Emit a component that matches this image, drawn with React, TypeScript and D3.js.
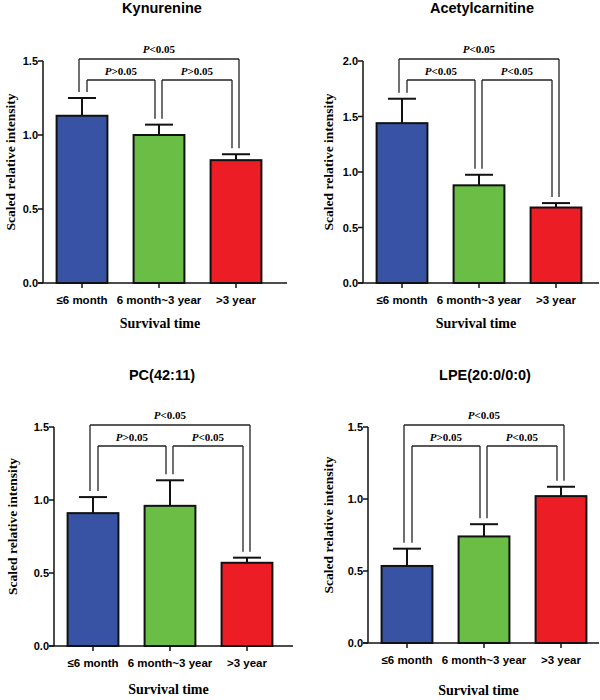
import React from "react";
import * as d3 from "d3";

const categories = ["≤6 month", "6 month~3 year", ">3 year"];
const titles = ["Kynurenine", "Acetylcarnitine", "PC(42:11)", "LPE(20:0/0:0)"];
const kynurenineMean = [1.13, 1.0, 0.83];
const kynurenineSem = [0.12, 0.07, 0.04];
const acetylcarnitineMean = [1.44, 0.88, 0.68];
const acetylcarnitineSem = [0.22, 0.095, 0.04];
const pcMean = [0.91, 0.96, 0.57];
const pcSem = [0.11, 0.175, 0.035];
const lpeMean = [0.535, 0.74, 1.02];
const lpeSem = [0.12, 0.085, 0.065];
// comparisons: [1 vs 3, 1 vs 2, 2 vs 3]
const kynurenineP = ["<0.05", ">0.05", ">0.05"];
const acetylcarnitineP = ["<0.05", "<0.05", "<0.05"];
const pcP = ["<0.05", ">0.05", "<0.05"];
const lpeP = ["<0.05", ">0.05", "<0.05"];
const yMaxes = [1.5, 2.0, 1.5, 1.5];
const yTicksSmall = [0, 0.5, 1.0, 1.5];
const yTicksLarge = [0, 0.5, 1.0, 1.5, 2.0];
const xTitle = "Survival time";
const yTitle = "Scaled relative intensity";

const colors = ["#3953a4", "#6abd45", "#ec1d25"];

const panelData = [
  { title: titles[0], mean: kynurenineMean, sem: kynurenineSem, p: kynurenineP, yMax: yMaxes[0], ticks: yTicksSmall },
  { title: titles[1], mean: acetylcarnitineMean, sem: acetylcarnitineSem, p: acetylcarnitineP, yMax: yMaxes[1], ticks: yTicksLarge },
  { title: titles[2], mean: pcMean, sem: pcSem, p: pcP, yMax: yMaxes[2], ticks: yTicksSmall },
  { title: titles[3], mean: lpeMean, sem: lpeSem, p: lpeP, yMax: yMaxes[3], ticks: yTicksSmall },
];

const layouts = [
  { left: 43, top: 61, bottom: 283, right: 287, titleX: 162, titleY: 8, yLabX: 10, xLabY: 323 },
  { left: 363, top: 61, bottom: 283, right: 599, titleX: 482, titleY: 8, yLabX: 328, xLabY: 323 },
  { left: 54, top: 427, bottom: 646, right: 293, titleX: 162, titleY: 375, yLabX: 12, xLabY: 689 },
  { left: 368, top: 427, bottom: 643, right: 599, titleX: 485, titleY: 375, yLabX: 328, xLabY: 690 },
];

const SANS = "'Liberation Sans', Arial, sans-serif";
const SERIF = "'Liberation Serif', 'Times New Roman', serif";

function PLabel({ x, y, text }: { x: number; y: number; text: string }) {
  return (
    <text x={x} y={y} textAnchor="middle" dominantBaseline="central" fontFamily={SERIF} fontWeight="bold" fontSize={11}>
      <tspan fontStyle="italic">P</tspan>
      <tspan>{text}</tspan>
    </text>
  );
}

function Panel({ d, l }: { d: any; l: any }) {
  const x = d3
    .scaleBand<string>()
    .domain(categories)
    .range([l.left + 0.5, l.left + 231.5])
    .paddingInner(0.34)
    .paddingOuter(0.17);
  const y = d3.scaleLinear().domain([0, d.yMax]).range([l.bottom, l.top]);
  const fmt = d3.format(".1f");
  const bw = x.bandwidth();
  const cx = categories.map((c) => (x(c) as number) + bw / 2);
  const errTop = d.mean.map((m: number, i: number) => y(m + d.sem[i]));
  const gap = 6;
  const outerY = l.top - 2;
  const innerY = l.top + 19;
  const lines: { x1: number; y1: number; x2: number; y2: number }[] = [];
  const bracket = (xa: number, xb: number, yy: number, ya: number, yb: number) => {
    lines.push({ x1: xa, y1: ya, x2: xa, y2: yy });
    lines.push({ x1: xa, y1: yy, x2: xb, y2: yy });
    lines.push({ x1: xb, y1: yy, x2: xb, y2: yb });
  };
  const oL = cx[0] - 3, oR = cx[2] + 3;
  const iL1 = cx[0] + 5, iL2 = cx[1] - 4;
  const iR1 = cx[1] + 3, iR2 = cx[2] - 4;
  bracket(oL, oR, outerY, errTop[0] - gap, errTop[2] - gap);
  bracket(iL1, iL2, innerY, errTop[0] - gap, errTop[1] - gap);
  bracket(iR1, iR2, innerY, errTop[1] - gap, errTop[2] - gap);
  const plotMid = (l.top + l.bottom) / 2 - 10;
  return (
    <g>
      <text x={l.titleX} y={l.titleY} textAnchor="middle" dominantBaseline="central" fontFamily={SANS} fontWeight="bold" fontSize={14.5}>
        {d.title}
      </text>
      {categories.map((c, i) => (
        <g key={c}>
          <line x1={cx[i]} x2={cx[i]} y1={y(d.mean[i])} y2={errTop[i]} stroke="#111" strokeWidth={2} />
          <line x1={cx[i] - 14} x2={cx[i] + 14} y1={errTop[i]} y2={errTop[i]} stroke="#111" strokeWidth={2} />
          <rect x={x(c)} y={y(d.mean[i])} width={bw} height={l.bottom - y(d.mean[i])} fill={colors[i]} stroke="#111" strokeWidth={2} />
        </g>
      ))}
      {lines.map((s, i) => (
        <line key={i} {...s} stroke="#222" strokeWidth={1.3} />
      ))}
      <PLabel x={(oL + oR) / 2} y={outerY - 10} text={d.p[0]} />
      <PLabel x={(iL1 + iL2) / 2} y={innerY - 9} text={d.p[1]} />
      <PLabel x={(iR1 + iR2) / 2} y={innerY - 9} text={d.p[2]} />
      {/* y axis */}
      <line x1={l.left} x2={l.left} y1={y(0)} y2={y(d.yMax)} stroke="#111" strokeWidth={1.5} />
      {d.ticks.map((t: number) => (
        <g key={t}>
          <line x1={l.left - 5} x2={l.left} y1={y(t)} y2={y(t)} stroke="#111" strokeWidth={1.5} />
          <text x={l.left - 5} y={y(t)} textAnchor="end" dominantBaseline="central" fontFamily={SANS} fontWeight="bold" fontSize={11}>
            {fmt(t)}
          </text>
        </g>
      ))}
      {/* x axis */}
      <line x1={l.left - 5} x2={l.right} y1={l.bottom} y2={l.bottom} stroke="#111" strokeWidth={1.5} />
      {categories.map((c, i) => (
        <g key={c}>
          <line x1={cx[i]} x2={cx[i]} y1={l.bottom} y2={l.bottom + 5} stroke="#111" strokeWidth={1.5} />
          <text x={cx[i]} y={l.bottom + 17} textAnchor="middle" dominantBaseline="central" fontFamily={SANS} fontWeight="bold" fontSize={11.5}>
            {c}
          </text>
        </g>
      ))}
      <text x={(l.left + l.right) / 2 - 5} y={l.xLabY} textAnchor="middle" dominantBaseline="central" fontFamily={SERIF} fontWeight="bold" fontSize={14}>
        {xTitle}
      </text>
      <text
        transform={`translate(${l.yLabX},${plotMid}) rotate(-90)`}
        textAnchor="middle"
        dominantBaseline="central"
        fontFamily={SERIF}
        fontWeight="bold"
        fontSize={13.5}
      >
        {yTitle}
      </text>
    </g>
  );
}

export default function App() {
  return (
    <svg width={600} height={700} style={{ position: "absolute", left: 0, top: 0, background: "#fff" }}>
      <rect width={600} height={700} fill="#fff" />
      {panelData.map((d, i) => (
        <Panel key={i} d={d} l={layouts[i]} />
      ))}
    </svg>
  );
}
